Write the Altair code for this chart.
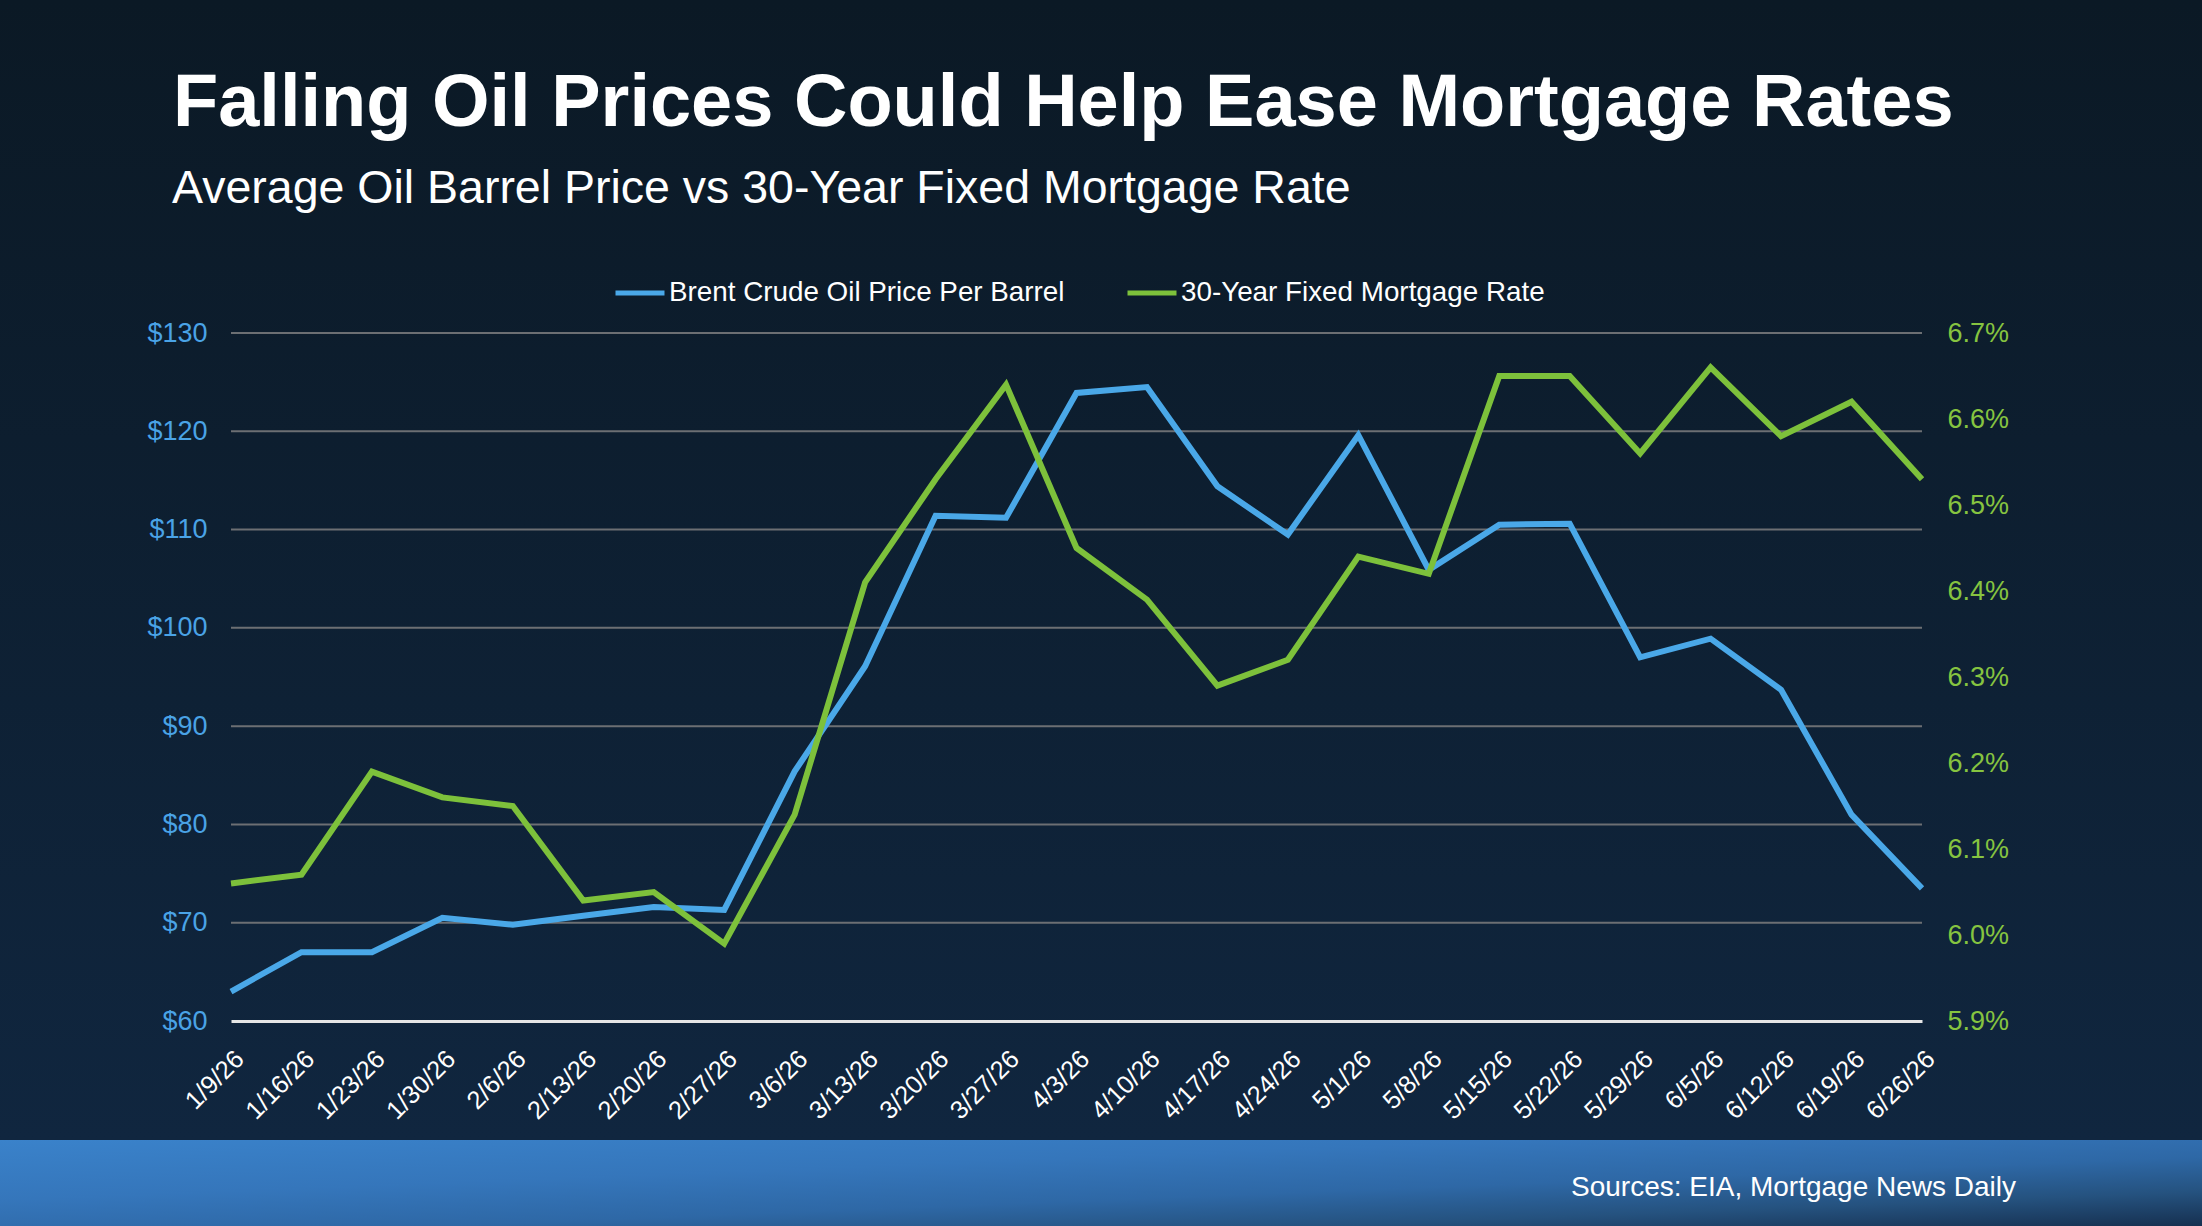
import altair as alt
import pandas as pd

# ---------------- data ----------------
dates = ["1/9/26", "1/16/26", "1/23/26", "1/30/26", "2/6/26", "2/13/26", "2/20/26",
         "2/27/26", "3/6/26", "3/13/26", "3/20/26", "3/27/26", "4/3/26", "4/10/26",
         "4/17/26", "4/24/26", "5/1/26", "5/8/26", "5/15/26", "5/22/26", "5/29/26",
         "6/5/26", "6/12/26", "6/19/26", "6/26/26"]
oil = [63.0, 67.0, 67.0, 70.5, 69.8, 70.7, 71.6, 71.3, 85.4, 96.1, 111.4, 111.2,
       123.9, 124.5, 114.4, 109.5, 119.6, 105.9, 110.5, 110.6, 97.0, 98.9, 93.7,
       81.0, 73.5]
rate = [6.06, 6.07, 6.19, 6.16, 6.15, 6.04, 6.05, 5.99, 6.14, 6.41, 6.53, 6.64,
        6.45, 6.39, 6.29, 6.32, 6.44, 6.42, 6.65, 6.65, 6.56, 6.66, 6.58, 6.62, 6.53]

series_names = ["Brent Crude Oil Price Per Barrel", "30-Year Fixed Mortgage Rate"]
series_colors = ["#4aa8e8", "#7dc13b"]
left_ticks = [60, 70, 80, 90, 100, 110, 120, 130]
right_ticks = [5.9, 6.0, 6.1, 6.2, 6.3, 6.4, 6.5, 6.6, 6.7]
oil_domain = [60, 130]
rate_domain = [5.9, 6.7]

title_text = ["Falling Oil Prices Could Help Ease Mortgage Rates"]
subtitle_text = ["Average Oil Barrel Price vs 30-Year Fixed Mortgage Rate"]
source_text = ["Sources: EIA, Mortgage News Daily"]

FONT = "Liberation Sans"
W, H = 1691, 688
PAD = {"left": 231, "top": 333, "right": 280, "bottom": 205}

df = pd.DataFrame({"date": dates, "oil": oil, "rate": rate})
grid_df = pd.DataFrame({"v": left_ticks[1:]})
one = pd.DataFrame({"k": [0]})

color_scale = alt.Scale(domain=series_names, range=series_colors)
legend = alt.Legend(title=None, orient="none", legendX=382, legendY=-67,
                    direction="horizontal", symbolType="stroke",
                    symbolStrokeWidth=5, symbolSize=2400, labelLimit=1000,
                    labelColor="white", labelFontSize=27.8, labelFont=FONT,
                    labelOffset=2, columnPadding=52)

x_axis = alt.Axis(labelAngle=-45, labelColor="white", labelFontSize=25.5, labelFont=FONT,
                  ticks=False, grid=False, domain=True, domainColor="#e6e6e6",
                  domainWidth=3, labelPadding=25, title=None, zindex=1)

# ---------------- backgrounds ----------------
bg = alt.Chart(one).mark_rect(
    color=alt.Gradient(gradient="linear", x1=0, x2=0, y1=0, y2=1,
                       stops=[alt.GradientStop(color="#0b1925", offset=0),
                              alt.GradientStop(color="#10263f", offset=1)])
).encode(x=alt.value(-PAD["left"]), x2=alt.value(W + PAD["right"]),
         y=alt.value(-PAD["top"]), y2=alt.value(1140 - PAD["top"]))

footer = alt.Chart(one).mark_rect(
    color=alt.Gradient(gradient="linear", x1=0, x2=1, y1=0, y2=1,
                       stops=[alt.GradientStop(color="#3a82ca", offset=0),
                              alt.GradientStop(color="#3576bb", offset=0.35),
                              alt.GradientStop(color="#2e68a6", offset=0.6),
                              alt.GradientStop(color="#25527f", offset=0.8),
                              alt.GradientStop(color="#163050", offset=1)])
).encode(x=alt.value(-PAD["left"]), x2=alt.value(W + PAD["right"]),
         y=alt.value(1140 - PAD["top"]), y2=alt.value(1226 - PAD["top"]))

# gridlines (left-axis values), drawn below the lines
grid = alt.Chart(grid_df).mark_rule(color="#6c6f73", strokeWidth=2).encode(
    y=alt.Y("v:Q", scale=alt.Scale(domain=oil_domain, nice=False, zero=False), axis=None),
    x=alt.value(0), x2=alt.value(W),
)

# ---------------- lines ----------------
oil_line = alt.Chart(df).mark_line(strokeWidth=6).transform_calculate(
    series=f"'{series_names[0]}'"
).encode(
    x=alt.X("date:N", sort=dates, scale=alt.Scale(type="point", padding=0), axis=x_axis),
    y=alt.Y("oil:Q", scale=alt.Scale(domain=oil_domain, nice=False, zero=False),
            axis=alt.Axis(orient="left", values=left_ticks, labelExpr="'$' + datum.value",
                          labelColor="#4aa3e6", labelFontSize=27, labelFont=FONT,
                          labelPadding=24, ticks=False, domain=False, grid=False,
                          title=None, zindex=1)),
    color=alt.Color("series:N", scale=color_scale, legend=legend),
)

rate_line = alt.Chart(df).mark_line(strokeWidth=6).transform_calculate(
    series=f"'{series_names[1]}'"
).encode(
    x=alt.X("date:N", sort=dates, scale=alt.Scale(type="point", padding=0), axis=x_axis),
    y=alt.Y("rate:Q", scale=alt.Scale(domain=rate_domain, nice=False, zero=False),
            axis=alt.Axis(orient="right", values=right_ticks,
                          labelExpr="format(datum.value, '.1f') + '%'",
                          labelColor="#86c440", labelFontSize=27, labelFont=FONT,
                          labelPadding=25, ticks=False, domain=False, grid=False,
                          title=None, zindex=1)),
    color=alt.Color("series:N", scale=color_scale, legend=legend),
)

# ---------------- texts ----------------
title = alt.Chart(pd.DataFrame({"t": title_text})).mark_text(
    align="left", baseline="alphabetic", font=FONT, fontSize=74, fontWeight="bold",
    color="white").encode(text="t:N", x=alt.value(173 - PAD["left"]), y=alt.value(126 - PAD["top"]))

subtitle = alt.Chart(pd.DataFrame({"t": subtitle_text})).mark_text(
    align="left", baseline="alphabetic", font=FONT, fontSize=46.5,
    color="white").encode(text="t:N", x=alt.value(172 - PAD["left"]), y=alt.value(203 - PAD["top"]))

source = alt.Chart(pd.DataFrame({"t": source_text})).mark_text(
    align="left", baseline="alphabetic", font=FONT, fontSize=28,
    color="white").encode(text="t:N", x=alt.value(1571 - PAD["left"]), y=alt.value(1196 - PAD["top"]))

chart = alt.layer(bg, footer, grid, oil_line, rate_line, title, subtitle, source).resolve_scale(
    y="independent"
).properties(
    width=W, height=H, padding=PAD, autosize=alt.AutoSizeParams(type="none")
).configure(background="#0c1a28").configure_view(stroke=None, fill=None)

chart.save("out.html", embed_options={"renderer": "svg", "actions": False})
